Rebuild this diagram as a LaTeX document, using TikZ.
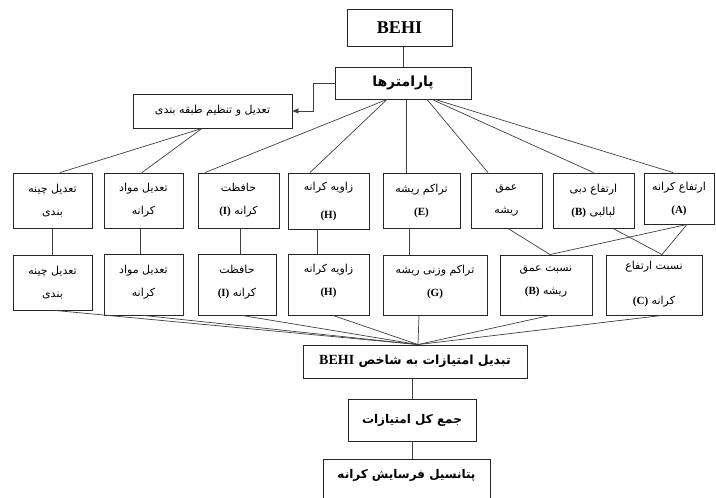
\documentclass[tikz,border=0pt]{standalone}
\usepackage{fontspec}
\setmainfont{Liberation Serif}
\newfontfamily\arabicfont[Script=Arabic]{DejaVu Sans}
\newfontfamily\latfont{Liberation Serif}
\TeXXeTstate=1
\usetikzlibrary{arrows.meta}
\newcommand{\persx}[1]{{\arabicfont\beginR #1\endR}}
\newcommand{\latx}[1]{\beginL{\latfont\bfseries #1}\endL}
\tikzset{
  box/.style={draw=black!85, line width=0.9pt, inner sep=0pt, align=center,
    font=\arabicfont\fontsize{11}{23}\selectfont},
  bbox/.style={box, font=\arabicfont\bfseries\fontsize{12}{14}\selectfont},
  conn/.style={draw=black!75, line width=0.7pt},
}
\begin{document}
\begin{tikzpicture}[x=1pt,y=-1pt]
\clip (0,0) rectangle (716,498);
\fill[white] (0,0) rectangle (716,498);
% top
\node[box, minimum width=105pt, minimum height=37pt, font=\latfont\bfseries\fontsize{18}{20}\selectfont] (behi) at (399.5,27.5) {BEHI};
\node[bbox, minimum width=136pt, minimum height=32pt, font=\arabicfont\bfseries\fontsize{14}{16}\selectfont] (par) at (403,83) {\persx{پارامترها}};
\node[box, minimum width=159pt, minimum height=34pt] (cls) at (212.5,111) {\persx{تعدیل و تنظیم طبقه بندی}};
% row 1
\node[box, minimum width=79pt, minimum height=55pt] (b1) at (52.5,200.5) {\persx{تعدیل چینه}\\\persx{بندی}};
\node[box, minimum width=79pt, minimum height=55pt] (b2) at (143.5,200.5) {\persx{تعدیل مواد}\\\persx{کرانه}};
\node[box, minimum width=81pt, minimum height=55pt] (b3) at (238.5,200.5) {\persx{حافظت}\\\persx{کرانه \latx{(I)}}};
\node[box, minimum width=81pt, minimum height=56pt] (b4) at (328.5,201) {\persx{زاویه کرانه}\\[5pt]\latx{(H)}};
\node[box, minimum width=77pt, minimum height=55pt] (b5) at (421.5,200.5) {\persx{تراکم ریشه}\\\latx{(E)}};
\node[box, minimum width=71pt, minimum height=55pt] (b6) at (506.5,200.5) {\persx{عمق}\\\persx{ریشه}};
\node[box, minimum width=81pt, minimum height=55pt] (b7) at (593.5,200.5) {\persx{ارتفاع دبی}\\\persx{لبالبی \latx{(B)}}};
\node[box, minimum width=70pt, minimum height=51pt] (b8) at (679,198.5) {\persx{ارتفاع کرانه}\\\latx{(A)}};
% row 2
\node[box, minimum width=79pt, minimum height=55pt] (c1) at (52.5,282.5) {\persx{تعدیل چینه}\\\persx{بندی}};
\node[box, minimum width=79pt, minimum height=61pt] (c2) at (143.5,284.5) {\persx{تعدیل مواد}\\\persx{کرانه}\\[-16pt]};
\node[box, minimum width=78pt, minimum height=61pt] (c3) at (237,284.5) {\persx{حافظت}\\\persx{کرانه \latx{(I)}}\\[-16pt]};
\node[box, minimum width=81pt, minimum height=61pt] (c4) at (328.5,284.5) {\persx{زاویه کرانه}\\\latx{(H)}\\[-14pt]};
\node[box, minimum width=104pt, minimum height=60pt] (c5) at (435,285) {\persx{تراکم وزنی ریشه}\\\latx{(G)}\\[-14pt]};
\node[box, minimum width=92pt, minimum height=60pt] (c6) at (546,285) {\persx{نسبت عمق}\\\persx{ریشه \latx{(B)}}\\[-14pt]};
\node[box, minimum width=96pt, minimum height=60pt] (c7) at (654,285) {\persx{نسبت ارتفاع}\\[12pt]\persx{کرانه \latx{(C)}}\\[-18pt]};
% bottom
\node[bbox, minimum width=224pt, minimum height=33pt, font=\arabicfont\bfseries\fontsize{12.5}{14}\selectfont] (conv) at (415,361.5) {\persx{تبدیل امتیازات به شاخص \latx{\fontsize{14}{15}\selectfont BEHI}}};
\node[bbox, minimum width=128pt, minimum height=42pt] (sum) at (412,420) {\persx{جمع کل امتیازات}};
\node[bbox, minimum width=167pt, minimum height=50pt, text depth=20pt] (fin) at (406.5,484) {\persx{پتانسیل فرسایش کرانه}};
% connectors
\draw[conn] (par.north) -- (par.north |- behi.south);
\draw[conn, -{Triangle[length=6pt,width=5pt]}] (par.west) -- ++(-21,0) |- (cls.east);
\draw[conn] ([xshift=-10.5pt]cls.south) -- ([xshift=7.5pt]b1.north);
\draw[conn] ([xshift=-10.5pt]cls.south) -- ([xshift=-1.5pt]b2.north);
\draw[conn] ([xshift=-16pt]par.south) -- ([xshift=-33.5pt]b3.north);
\draw[conn] ([xshift=-16pt]par.south) -- ([xshift=-18.5pt]b4.north);
\draw[conn] ([xshift=3pt]par.south) -- ([xshift=-15.5pt]b5.north);
\draw[conn] ([xshift=24pt]par.south) -- ([xshift=-18.5pt]b6.north);
\draw[conn] ([xshift=29pt]par.south) -- (b7.north);
\draw[conn] ([xshift=32pt]par.south) -- ([xshift=-6pt]b8.north);
\draw[conn] (b1.south) -- (c1.north);
\draw[conn] ([xshift=-3.5pt]b2.south) -- ([xshift=-3.5pt]c2.north);
\draw[conn] ([xshift=1.5pt]b3.south) -- ([xshift=1.5pt]b3.south |- c3.north);
\draw[conn] ([xshift=-11.5pt]b4.south) -- ([xshift=-11.5pt]c4.north);
\draw[conn] ([xshift=-12.5pt]b5.south) -- ([xshift=-26pt]c5.north);
\draw[conn] ([xshift=1.5pt]b6.south) -- ([xshift=4pt]c6.north);
\draw[conn] ([xshift=8pt]b8.south) -- ([xshift=4pt]c6.north);
\draw[conn] ([xshift=8pt]b8.south) -- ([xshift=8pt]c7.north);
\draw[conn] ([xshift=19.5pt]b7.south) -- ([xshift=8pt]c7.north);
\draw[conn] ([xshift=2.5pt]c1.south) -- ([xshift=3pt]conv.north);
\draw[conn] (c2.south) -- ([xshift=3pt]conv.north);
\draw[conn] ([xshift=5pt]c3.south) -- ([xshift=3pt]conv.north);
\draw[conn] ([xshift=4.5pt]c4.south) -- ([xshift=3pt]conv.north);
\draw[conn] ([xshift=-16pt]c5.south) -- ([xshift=3pt]conv.north);
\draw[conn] ([xshift=4pt]c6.south) -- ([xshift=3pt]conv.north);
\draw[conn] ([xshift=8pt]c7.south) -- ([xshift=3pt]conv.north);
\draw[conn] (sum.north) -- (sum.north |- conv.south);
\draw[conn] (sum.south) -- (sum.south |- fin.north);
\end{tikzpicture}
\end{document}
